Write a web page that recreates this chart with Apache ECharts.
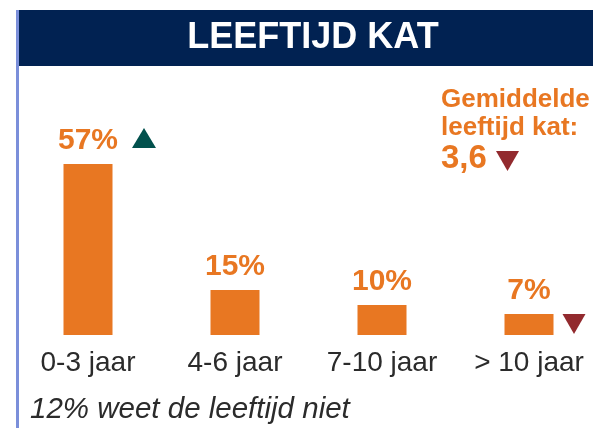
<!DOCTYPE html>
<html>
<head>
<meta charset="utf-8">
<script src="https://cdn.jsdelivr.net/npm/echarts@6/dist/echarts.min.js"></script>
<style>
html,body{margin:0;padding:0;background:#fff;}
#c{width:593px;height:428px;}
</style>
</head>
<body>
<div id="c"></div>
<script>
var titleText = 'LEEFTIJD KAT';
var categories = ['0-3 jaar', '4-6 jaar', '7-10 jaar', '> 10 jaar'];
var values = [57, 15, 10, 7];
var trendUp = [57, null, null, null];
var trendDown = [null, null, null, 7];
var avgLines = ['Gemiddelde', 'leeftijd kat:'];
var avgValue = '3,6';
var footnote = '12% weet de leeftijd niet';

var FONT = '"Liberation Sans", Arial, sans-serif';
var ORANGE = '#E87722';
var NAVY = '#012252';
var chart = echarts.init(document.getElementById('c'), null, {renderer: 'canvas'});

chart.setOption({
  animation: false,
  backgroundColor: '#ffffff',
  grid: {left: 88, right: 64, top: 155, bottom: 93, containLabel: false},
  xAxis: {
    type: 'category',
    data: categories,
    boundaryGap: false,
    axisLine: {show: false},
    axisTick: {show: false},
    axisLabel: {fontFamily: FONT, fontSize: 28, color: '#2b2b2b', margin: 14, interval: 0}
  },
  yAxis: {type: 'value', min: 0, max: 60, show: false, splitLine: {show: false}},
  series: [
    {
      type: 'bar',
      data: values,
      barWidth: 49,
      itemStyle: {color: ORANGE},
      label: {
        show: true, position: 'top', distance: 8,
        formatter: '{c}%',
        fontFamily: FONT, fontSize: 30, fontWeight: 'bold', color: ORANGE
      }
    },
    {
      type: 'scatter',
      data: trendUp,
      symbol: 'triangle',
      symbolSize: [24, 20],
      symbolOffset: [56, -26],
      itemStyle: {color: '#02514D', opacity: 1},
      z: 5
    },
    {
      type: 'scatter',
      data: trendDown,
      symbol: 'triangle',
      symbolRotate: 180,
      symbolSize: [23, 20],
      symbolOffset: [45, 10],
      itemStyle: {color: '#922A2E', opacity: 1},
      z: 5
    }
  ],
  graphic: [
    {type: 'rect', shape: {x: 16, y: 10, width: 577, height: 56}, style: {fill: NAVY}, z: 1},
    {type: 'rect', shape: {x: 16, y: 10, width: 3, height: 418}, style: {fill: '#7B8FDA'}, z: 2},
    {type: 'text', x: 313, y: 38, style: {text: titleText, fill: '#ffffff', font: 'bold 36px ' + FONT, textAlign: 'center', textVerticalAlign: 'middle'}, z: 3},
    {type: 'text', x: 441, y: 100, style: {text: avgLines[0], fill: ORANGE, font: 'bold 26px ' + FONT, textAlign: 'left', textVerticalAlign: 'middle'}, z: 3},
    {type: 'text', x: 441, y: 128, style: {text: avgLines[1], fill: ORANGE, font: 'bold 26px ' + FONT, textAlign: 'left', textVerticalAlign: 'middle'}, z: 3},
    {type: 'text', x: 441, y: 159, style: {text: avgValue, fill: ORANGE, font: 'bold 33px ' + FONT, textAlign: 'left', textVerticalAlign: 'middle'}, z: 3},
    {type: 'polygon', shape: {points: [[496, 151], [519, 151], [507.5, 171]]}, style: {fill: '#922A2E'}, z: 3},
    {type: 'text', x: 30, y: 410, style: {text: footnote, fill: '#2b2b2b', font: 'italic 29.5px ' + FONT, textAlign: 'left', textVerticalAlign: 'middle'}, z: 3}
  ]
});
</script>
</body>
</html>
